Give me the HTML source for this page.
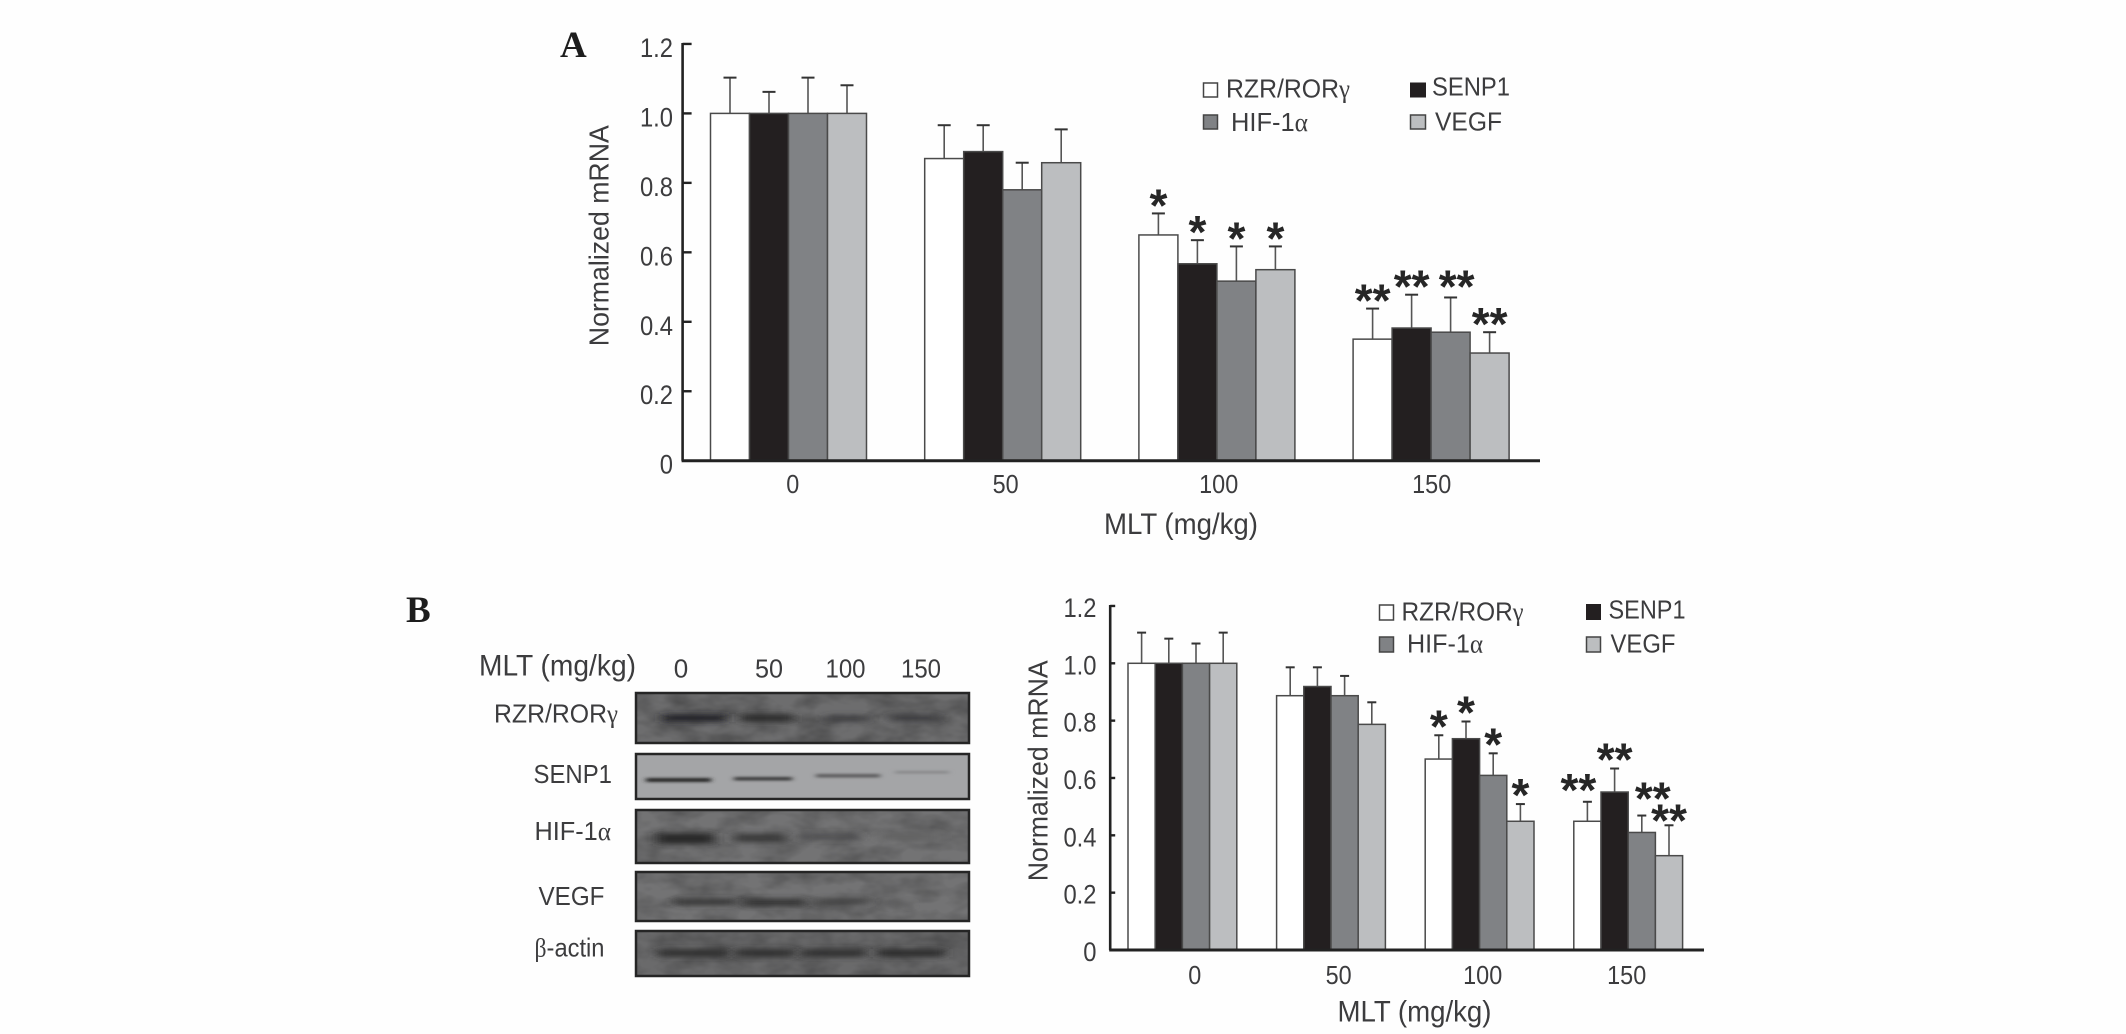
<!DOCTYPE html>
<html lang="en">
<head>
<meta charset="utf-8">
<title>Normalized mRNA and western blots by MLT dose</title>
<style>
html,body{margin:0;padding:0;background:#fefefe;}
svg{display:block;}
text{font-family:"Liberation Sans",sans-serif;fill:#3c3c3e;}
.g{font-family:"Liberation Serif",serif;}
.lt{font-size:26px;}
.head{font-family:"Liberation Serif",serif;font-weight:bold;font-size:37px;fill:#1d1d1d;}
.blot{stroke:#252525;stroke-width:2.5;}
</style>
</head>
<body>
<svg id="figure" xmlns="http://www.w3.org/2000/svg" width="2126" height="1034" viewBox="0 0 2126 1034">
<defs>
<filter id="b1" x="-40%" y="-300%" width="180%" height="700%"><feGaussianBlur stdDeviation="6 3"/></filter>
<filter id="b2" x="-30%" y="-300%" width="160%" height="700%"><feGaussianBlur stdDeviation="3 1.2"/></filter>
<filter id="b3" x="-30%" y="-200%" width="160%" height="500%"><feGaussianBlur stdDeviation="9 5"/></filter>
<filter id="mottle" x="0" y="0" width="100%" height="100%">
  <feTurbulence type="fractalNoise" baseFrequency="0.03 0.06" numOctaves="3" seed="4"/>
  <feColorMatrix type="matrix" values="0 0 0 0 0  0 0 0 0 0  0 0 0 0 0  1.4 0 0 0 -0.45"/>
</filter>
</defs>
<rect width="2126" height="1034" fill="#fefefe"/>

<text class="head" x="560" y="57">A</text>
<text class="head" x="406" y="622">B</text>

<g id="chartA"></g>
<g id="chartB"></g>

<g>
  <rect x="1203.5" y="83" width="14" height="14" fill="#fff" stroke="#444" stroke-width="1.5"/>
  <text class="lt" x="1226" y="97.5" textLength="124" lengthAdjust="spacingAndGlyphs">RZR/ROR<tspan class="g">γ</tspan></text>
  <rect x="1410.5" y="83" width="15" height="14" fill="#231f20" stroke="#231f20"/>
  <text class="lt" x="1432" y="95.5" textLength="78" lengthAdjust="spacingAndGlyphs">SENP1</text>
  <rect x="1203.5" y="115" width="14" height="14" fill="#808285" stroke="#444" stroke-width="1.5"/>
  <text class="lt" x="1231" y="131" textLength="77" lengthAdjust="spacingAndGlyphs">HIF-1<tspan class="g">α</tspan></text>
  <rect x="1410.5" y="115" width="15" height="14" fill="#bcbec0" stroke="#444" stroke-width="1.5"/>
  <text class="lt" x="1435" y="130.5" textLength="67" lengthAdjust="spacingAndGlyphs">VEGF</text>
</g>

<g>
  <rect x="1379.5" y="605" width="14" height="15" fill="#fff" stroke="#444" stroke-width="1.5"/>
  <text class="lt" x="1401.5" y="620.5" textLength="122" lengthAdjust="spacingAndGlyphs">RZR/ROR<tspan class="g">γ</tspan></text>
  <rect x="1586.5" y="604.5" width="14" height="15" fill="#231f20" stroke="#231f20"/>
  <text class="lt" x="1608.5" y="618.5" textLength="77" lengthAdjust="spacingAndGlyphs">SENP1</text>
  <rect x="1379.5" y="637" width="14" height="15" fill="#808285" stroke="#444" stroke-width="1.5"/>
  <text class="lt" x="1407" y="652.5" textLength="76" lengthAdjust="spacingAndGlyphs">HIF-1<tspan class="g">α</tspan></text>
  <rect x="1586.5" y="637" width="14" height="15" fill="#bcbec0" stroke="#444" stroke-width="1.5"/>
  <text class="lt" x="1610.5" y="652.5" textLength="65" lengthAdjust="spacingAndGlyphs">VEGF</text>
</g>

<g>
  <text x="479" y="675.5" font-size="30" textLength="157" lengthAdjust="spacingAndGlyphs">MLT (mg/kg)</text>
  <text class="lt" x="681" y="677.5" text-anchor="middle">0</text>
  <text class="lt" x="769" y="677.5" text-anchor="middle" textLength="28" lengthAdjust="spacingAndGlyphs">50</text>
  <text class="lt" x="845.5" y="677.5" text-anchor="middle" textLength="40" lengthAdjust="spacingAndGlyphs">100</text>
  <text class="lt" x="921" y="677.5" text-anchor="middle" textLength="40" lengthAdjust="spacingAndGlyphs">150</text>

  <text class="lt" x="494" y="722.5" textLength="124" lengthAdjust="spacingAndGlyphs">RZR/ROR<tspan class="g">γ</tspan></text>
  <text class="lt" x="533.5" y="783" textLength="78.5" lengthAdjust="spacingAndGlyphs">SENP1</text>
  <text class="lt" x="534.5" y="840" textLength="76.5" lengthAdjust="spacingAndGlyphs">HIF-1<tspan class="g">α</tspan></text>
  <text class="lt" x="538.5" y="905" textLength="66" lengthAdjust="spacingAndGlyphs">VEGF</text>
  <text class="lt" x="534.5" y="956.5" textLength="70" lengthAdjust="spacingAndGlyphs"><tspan class="g">β</tspan>-actin</text>

  <svg x="636" y="693" width="333" height="50" viewBox="636 693 333 50">
    <rect x="636" y="693" width="333" height="50" fill="#6d6d6e"/>
    <rect x="636" y="693" width="333" height="50" filter="url(#mottle)" opacity=".35"/>
    <rect x="662" y="714" width="65" height="8" fill="#242425" filter="url(#b1)"/>
    <rect x="740" y="714" width="54" height="8" fill="#2b2b2c" filter="url(#b1)"/>
    <rect x="825" y="716" width="43" height="5" fill="#363637" filter="url(#b1)"/>
    <rect x="889" y="715" width="50" height="6" fill="#363637" filter="url(#b1)"/>
  </svg>
  <rect class="blot" x="636" y="693" width="333" height="50" fill="none"/>

  <svg x="636" y="754" width="333" height="45" viewBox="636 754 333 45">
    <rect x="636" y="754" width="333" height="45" fill="#a4a5a7"/>
    <rect x="646" y="778" width="65" height="4" fill="#2a2a2b" filter="url(#b2)"/>
    <rect x="734" y="777" width="58" height="3.5" fill="#3a3a3b" filter="url(#b2)"/>
    <rect x="816" y="774" width="64" height="3.5" fill="#5b5c5d" filter="url(#b2)"/>
    <rect x="895" y="771" width="54" height="2.5" fill="#858688" filter="url(#b2)"/>
  </svg>
  <rect class="blot" x="636" y="754" width="333" height="45" fill="none"/>

  <svg x="636" y="810" width="333" height="53" viewBox="636 810 333 53">
    <rect x="636" y="810" width="333" height="53" fill="#737374"/>
    <rect x="636" y="810" width="333" height="53" filter="url(#mottle)" opacity=".3"/>
    <rect x="656" y="833" width="59" height="11" fill="#252526" filter="url(#b1)"/>
    <rect x="734" y="834" width="52" height="8" fill="#353536" filter="url(#b1)"/>
    <rect x="801" y="834" width="58" height="5" fill="#4a4a4b" filter="url(#b1)"/>
    <rect x="880" y="834" width="60" height="5" fill="#5e5e5f" filter="url(#b1)"/>
  </svg>
  <rect class="blot" x="636" y="810" width="333" height="53" fill="none"/>

  <svg x="636" y="872" width="333" height="49" viewBox="636 872 333 49">
    <rect x="636" y="872" width="333" height="49" fill="#737374"/>
    <rect x="636" y="872" width="333" height="49" filter="url(#mottle)" opacity=".3"/>
    <rect x="675" y="899" width="61" height="6" fill="#2e2e2f" filter="url(#b1)"/>
    <rect x="744" y="899" width="61" height="7" fill="#2e2e2f" filter="url(#b1)"/>
    <rect x="815" y="899" width="55" height="5" fill="#3a3a3b" filter="url(#b1)"/>
    <rect x="885" y="902" width="25" height="4" fill="#5a5a5b" filter="url(#b1)"/>
  </svg>
  <rect class="blot" x="636" y="872" width="333" height="49" fill="none"/>

  <svg x="636" y="931" width="333" height="45" viewBox="636 931 333 45">
    <rect x="636" y="931" width="333" height="45" fill="#6a6a6b"/>
    <rect x="636" y="931" width="333" height="45" filter="url(#mottle)" opacity=".3"/>
    <rect x="658" y="949" width="70" height="8" fill="#2e2e2f" filter="url(#b1)"/>
    <rect x="735" y="949" width="59" height="8" fill="#2e2e2f" filter="url(#b1)"/>
    <rect x="801" y="949" width="65" height="8" fill="#2e2e2f" filter="url(#b1)"/>
    <rect x="877" y="949" width="68" height="8" fill="#2b2b2c" filter="url(#b1)"/>
  </svg>
  <rect class="blot" x="636" y="931" width="333" height="45" fill="none"/>
</g>
</svg>

<script>
// Shared categories and labels
const doseCategories = ["0", "50", "100", "150"];
const seriesNames = ["rzr-ror", "senp1", "hif-1a", "vegf"];
const yTickValues = [0, 0.2, 0.4, 0.6, 0.8, 1.0, 1.2];
const yTickLabels = ["0", "0.2", "0.4", "0.6", "0.8", "1.0", "1.2"];

// Panel A values, one list per dose category order
const aRzr = [1.00, 0.87, 0.65, 0.35];
const aSenp1 = [1.00, 0.89, 0.567, 0.382];
const aHif = [1.00, 0.78, 0.517, 0.37];
const aVegf = [1.00, 0.858, 0.55, 0.31];
const aRzrUpper = [1.103, 0.966, 0.712, 0.438];
const aSenp1Upper = [1.062, 0.966, 0.635, 0.478];
const aHifUpper = [1.103, 0.858, 0.617, 0.47];
const aVegfUpper = [1.081, 0.954, 0.617, 0.37];
const aRzrStars = ["", "", "*", "**"];
const aSenp1Stars = ["", "", "*", "**"];
const aHifStars = ["", "", "*", "**"];
const aVegfStars = ["", "", "*", "**"];

// Panel B values
const bRzr = [1.00, 0.887, 0.666, 0.449];
const bSenp1 = [1.00, 0.919, 0.737, 0.551];
const bHif = [1.00, 0.887, 0.609, 0.41];
const bVegf = [1.00, 0.787, 0.449, 0.329];
const bRzrUpper = [1.107, 0.986, 0.749, 0.517];
const bSenp1Upper = [1.086, 0.986, 0.797, 0.633];
const bHifUpper = [1.069, 0.956, 0.686, 0.469];
const bVegfUpper = [1.107, 0.864, 0.509, 0.435];
const bRzrStars = ["", "", "*", "**"];
const bSenp1Stars = ["", "", "*", "**"];
const bHifStars = ["", "", "*", "**"];
const bVegfStars = ["", "", "*", "**"];

const seriesFill = ["#ffffff", "#231f20", "#808285", "#bcbec0"];
const NS = "http://www.w3.org/2000/svg";

function add(parent, tag, attrs, txt) {
  const el = document.createElementNS(NS, tag);
  for (const k in attrs) el.setAttribute(k, attrs[k]);
  if (txt !== undefined) el.textContent = txt;
  parent.appendChild(el);
  return el;
}

function condense(el, factor) {
  el.setAttribute("textLength", el.getComputedTextLength() * factor);
  el.setAttribute("lengthAdjust", "spacingAndGlyphs");
}

function drawChart(root, cfg, values, uppers, stars) {
  const yPos = v => cfg.y0 - v * cfg.unit;
  const xPos = (g, s) => cfg.x0 + g * cfg.step + s * cfg.bw;
  const xLabel = g => cfg.labelX0 + g * cfg.labelStep;

  // error bars sit behind the bars
  values.forEach((series, s) => {
    series.forEach((v, g) => {
      const cx = xPos(g, s) + cfg.bw / 2;
      const stem = add(root, "line", {x1: cx, x2: cx, y1: yPos(v), y2: yPos(uppers[s][g]), stroke: "#555", "stroke-width": 1.6});
      
      
      const cap = add(root, "line", {x1: cx - cfg.cap, x2: cx + cfg.cap, y1: yPos(uppers[s][g]), y2: yPos(uppers[s][g]), stroke: "#333", "stroke-width": 2});
      
      
    });
  });

  // bars
  values.forEach((series, s) => {
    series.forEach((v, g) => {
      const bar = add(root, "rect", {x: xPos(g, s), y: yPos(v), width: cfg.bw, height: yPos(0) - yPos(v), fill: seriesFill[s], stroke: "#4a4a4a", "stroke-width": 1.5});
      
      
    });
  });

  // significance stars
  stars.forEach((series, s) => {
    series.forEach((label, g) => {
      if (!label) return;
      const nudge = cfg.starNudge[g + "," + s] || [0, 0];
      const star = add(root, "text", {x: xPos(g, s) + cfg.bw / 2 + nudge[0], y: yPos(uppers[s][g]) - cfg.starGap + nudge[1] + 26, "text-anchor": "middle", "font-size": 46, "font-weight": "bold", style: "fill:#262626"}, label);
      
      
    });
  });

  // axes
  const yAxis = add(root, "line", {x1: cfg.axisX, x2: cfg.axisX, y1: yPos(1.2) - 1, y2: yPos(0), stroke: "#222", "stroke-width": 2.6});
  
  
  const xAxis = add(root, "line", {x1: cfg.axisX - 1, x2: cfg.axisEnd, y1: yPos(0), y2: yPos(0), stroke: "#222", "stroke-width": 3});
  
  

  yTickValues.forEach((v, i) => {
    const tick = add(root, "line", {x1: cfg.axisX, x2: cfg.axisX + cfg.tick, y1: yPos(v), y2: yPos(v), stroke: "#222", "stroke-width": 2.4});
    
    
    const label = add(root, "text", {x: cfg.tickRight, y: yPos(v) + cfg.tickDy, "text-anchor": "end", "font-size": 27}, yTickLabels[i]);
    
    
    condense(label, 0.88);
  });

  doseCategories.forEach((c, g) => {
    const label = add(root, "text", {x: xLabel(g), y: cfg.labelY, "text-anchor": "middle", "font-size": 26}, c);
    
    
    condense(label, 0.9);
  });

  const xTitle = add(root, "text", {x: cfg.xTitleX, y: cfg.xTitleY, "font-size": 30, textLength: 154, lengthAdjust: "spacingAndGlyphs"}, "MLT (mg/kg)");
  
  
  const yTitle = add(root, "text", {transform: "translate(" + cfg.yTitleX + "," + cfg.yTitleY + ") rotate(-90)", "text-anchor": "middle", "font-size": 28, textLength: 221, lengthAdjust: "spacingAndGlyphs"}, "Normalized mRNA");
  
  
}

drawChart(document.getElementById("chartA"), {
  y0: 460.7, unit: 347.3, x0: 710.5, step: 214.2, bw: 39, cap: 6.5,
  axisX: 682.6, axisEnd: 1540, tick: 9, tickRight: 673, tickDy: 13,
  labelX0: 792.7, labelStep: 213, labelY: 493,
  xTitleX: 1104, xTitleY: 534, yTitleX: 608.3, yTitleY: 235.7,
  starGap: 18, starNudge: {"3,2": [6, -3]}
}, [aRzr, aSenp1, aHif, aVegf], [aRzrUpper, aSenp1Upper, aHifUpper, aVegfUpper], [aRzrStars, aSenp1Stars, aHifStars, aVegfStars]);

drawChart(document.getElementById("chartB"), {
  y0: 950, unit: 286.7, x0: 1128, step: 148.6, bw: 27.2, cap: 4.5,
  axisX: 1110.2, axisEnd: 1704, tick: 5, tickRight: 1096.5, tickDy: 11,
  labelX0: 1194.7, labelStep: 144, labelY: 984,
  xTitleX: 1337.5, xTitleY: 1021.7, yTitleX: 1047.3, yTitleY: 770.8,
  starGap: 19, starNudge: {"3,0": [-9, -3], "3,2": [11, -8], "3,3": [0, 4]}
}, [bRzr, bSenp1, bHif, bVegf], [bRzrUpper, bSenp1Upper, bHifUpper, bVegfUpper], [bRzrStars, bSenp1Stars, bHifStars, bVegfStars]);
</script>
</body>
</html>
